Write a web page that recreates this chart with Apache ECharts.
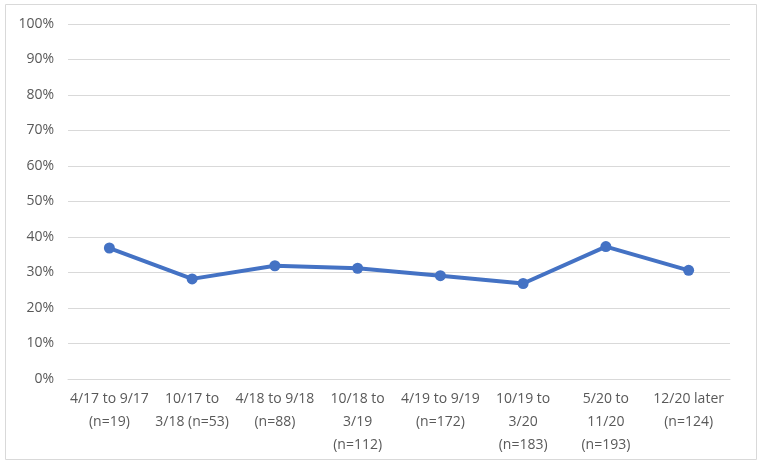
<!DOCTYPE html>
<html><head><meta charset="utf-8">
<script src="https://cdn.jsdelivr.net/npm/echarts@6/dist/echarts.min.js"></script>
<style>html,body{margin:0;padding:0;background:#fff}#c{width:762px;height:465px}</style>
</head><body><div id="c"></div>
<script>
const categories = ['4/17 to 9/17\n(n=19)', '10/17 to\n3/18 (n=53)', '4/18 to 9/18\n(n=88)', '10/18 to\n3/19\n(n=112)', '4/19 to 9/19\n(n=172)', '10/19 to\n3/20\n(n=183)', '5/20 to\n11/20\n(n=193)', '12/20 later\n(n=124)'];
const values = [36.9, 28.2, 31.9, 31.2, 29.1, 26.9, 37.3, 30.6];
const yTicks = [0, 10, 20, 30, 40, 50, 60, 70, 80, 90, 100];

const chart = echarts.init(document.getElementById('c'), null, {renderer: 'canvas'});
const font = 'Open Sans, Liberation Sans, sans-serif';
chart.setOption({
  animation: false,
  graphic: [{type: 'rect', shape: {x: 5.5, y: 4.5, width: 751, height: 455}, style: {fill: 'none', stroke: '#d9d9d9', lineWidth: 1}}],
  grid: {left: 68, right: 32, top: 24, bottom: 86},
  xAxis: {
    type: 'category', data: categories, boundaryGap: true,
    axisLine: {show: true, lineStyle: {color: '#d9d9d9', width: 1}},
    axisTick: {show: false},
    axisLabel: {color: '#595959', fontSize: 14, fontFamily: font, lineHeight: 23, interval: 0, margin: 9}
  },
  yAxis: {
    type: 'value', min: 0, max: 100, interval: 10,
    axisLine: {show: false}, axisTick: {show: false},
    splitLine: {lineStyle: {color: '#d9d9d9', width: 1}},
    axisLabel: {color: '#595959', fontSize: 14, fontFamily: font, margin: 14,
      formatter: v => yTicks.includes(v) ? v + '%' : ''}
  },
  series: [{
    type: 'line', data: values, symbol: 'circle', symbolSize: 11,
    lineStyle: {color: '#4472C4', width: 4},
    itemStyle: {color: '#4472C4'}
  }]
});
</script></body></html>
